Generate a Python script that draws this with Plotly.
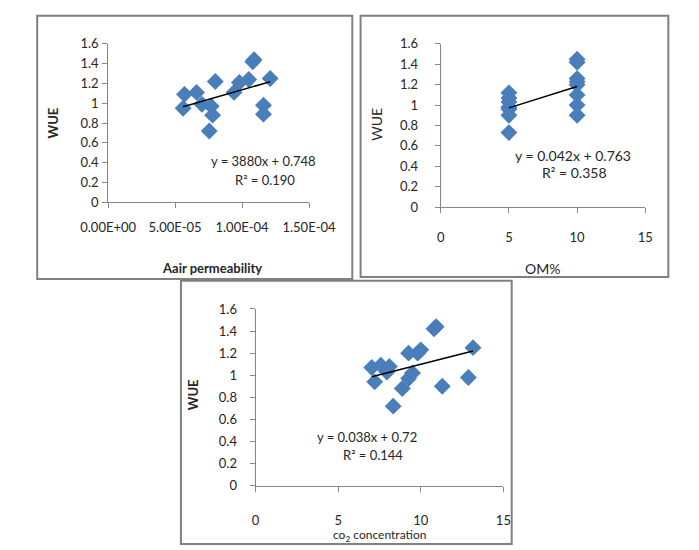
import plotly.graph_objects as go

W, H = 699, 550

# ---- data (16 samples) ----
wue_p1 = [1.09, 0.95, 1.11, 0.99, 1.22, 0.97, 0.88, 0.72, 1.11, 1.21, 1.24, 1.44, 1.42, 1.25, 0.98, 0.89]
perm = [5.7e-5, 5.6e-5, 6.6e-5, 7.0e-5, 8.0e-5, 7.7e-5, 7.8e-5, 7.55e-5, 9.4e-5, 9.8e-5, 1.05e-4, 1.09e-4, 1.08e-4, 1.21e-4, 1.16e-4, 1.16e-4]

om_wue_5 = [1.12, 1.07, 1.03, 0.98, 0.96, 0.90, 0.73]
om_wue_10 = [1.45, 1.42, 1.26, 1.23, 1.20, 1.10, 1.00, 0.90]
om_x5 = [5] * len(om_wue_5)
om_x10 = [10] * len(om_wue_10)

co2 = [7.03, 7.21, 7.58, 7.95, 8.33, 8.88, 9.26, 9.26, 9.81, 10.0, 10.93, 10.8, 11.3, 12.88, 13.16, 8.1, 9.5]
wue_p3 = [1.07, 0.94, 1.09, 1.03, 0.72, 0.88, 0.97, 1.20, 1.20, 1.23, 1.44, 1.42, 0.90, 0.98, 1.25, 1.08, 1.02]

# trend line coefficients (slope, intercept) as reported
trend1 = (3880, 0.748)
trend2 = (0.042, 0.763)
trend3 = (0.038, 0.72)

eq1 = ["y = 3880x + 0.748", "R² = 0.190"]
eq2 = ["y = 0.042x + 0.763", "R² = 0.358"]
eq3 = ["y = 0.038x + 0.72", "R² = 0.144"]

p1_xticks = [0, 5e-5, 1e-4, 1.5e-4]
p1_xticktext = ["0.00E+00", "5.00E-05", "1.00E-04", "1.50E-04"]
yticks = [0, 0.2, 0.4, 0.6, 0.8, 1, 1.2, 1.4, 1.6]
yticktext = ["0", "0.2", "0.4", "0.6", "0.8", "1", "1.2", "1.4", "1.6"]
xticks_15 = [0, 5, 10, 15]

BLUE = "#4A7EBB"
FONT = "Lato"


def px(x):
    return x / W


def py(y):
    return 1 - y / H


fig = go.Figure()

marker = dict(symbol="diamond", size=13, color=BLUE, line=dict(width=0))

# panel 1
fig.add_trace(go.Scatter(x=perm, y=wue_p1, mode="markers", marker=marker, xaxis="x", yaxis="y", showlegend=False))
xs1 = [min(perm), max(perm)]
fig.add_trace(go.Scatter(x=xs1, y=[trend1[0] * v + trend1[1] for v in xs1], mode="lines",
                         line=dict(color="black", width=1.5), xaxis="x", yaxis="y", showlegend=False))
# panel 2
fig.add_trace(go.Scatter(x=om_x5 + om_x10, y=om_wue_5 + om_wue_10, mode="markers", marker=marker,
                         xaxis="x2", yaxis="y2", showlegend=False))
xs2 = [5, 10]
fig.add_trace(go.Scatter(x=xs2, y=[trend2[0] * v + trend2[1] for v in xs2], mode="lines",
                         line=dict(color="black", width=1.5), xaxis="x2", yaxis="y2", showlegend=False))
# panel 3
fig.add_trace(go.Scatter(x=co2, y=wue_p3, mode="markers", marker=marker, xaxis="x3", yaxis="y3", showlegend=False))
xs3 = [min(co2), max(co2)]
fig.add_trace(go.Scatter(x=xs3, y=[trend3[0] * v + trend3[1] for v in xs3], mode="lines",
                         line=dict(color="black", width=1.5), xaxis="x3", yaxis="y3", showlegend=False))

tickfont = dict(family=FONT, size=13, color="#262626")
axis_common = dict(showgrid=False, zeroline=False, showline=True, linecolor="#868686", linewidth=1,
                   ticks="outside", ticklen=5, tickcolor="#868686", tickfont=tickfont)

# domains from pixel positions
fig.update_layout(
    width=W, height=H, margin=dict(l=0, r=0, t=0, b=0),
    paper_bgcolor="white", plot_bgcolor="white",
    xaxis=dict(domain=[px(87), px(305)], range=[0, 1.5e-4], tickvals=p1_xticks, ticktext=p1_xticktext,
               anchor="y", ticklabelstandoff=8, **axis_common),
    yaxis=dict(domain=[py(200), py(37)], range=[0, 1.6], tickvals=yticks, ticktext=yticktext,
               anchor="x", ticklabelstandoff=1, **axis_common),
    xaxis2=dict(domain=[px(448), px(670)], range=[0, 15], tickvals=xticks_15,
                anchor="y2", ticklabelstandoff=13, **axis_common),
    yaxis2=dict(domain=[py(205), py(37)], range=[0, 1.6], tickvals=yticks, ticktext=yticktext,
                anchor="x2", ticklabelstandoff=14, **axis_common),
    xaxis3=dict(domain=[px(247), px(516)], range=[0, 15], tickvals=xticks_15,
                anchor="y3", ticklabelstandoff=18, **axis_common),
    yaxis3=dict(domain=[py(492), py(310)], range=[0, 1.6], tickvals=yticks, ticktext=yticktext,
                anchor="x3", ticklabelstandoff=10, **axis_common),
)

# panel frames
frame = dict(type="rect", xref="paper", yref="paper", line=dict(color="#808080", width=2), fillcolor="rgba(0,0,0,0)")
fig.add_shape(x0=px(10), x1=px(352), y0=py(279), y1=py(8), **frame)
fig.add_shape(x0=px(361), x1=px(695), y0=py(277), y1=py(8), **frame)
fig.add_shape(x0=px(166), x1=px(525), y0=py(552), y1=py(281), **frame)


def ann(text, x, y, size=13, bold=False, angle=0, color="#262626"):
    t = f"<b>{text}</b>" if bold else text
    fig.add_annotation(text=t, x=px(x), y=py(y), xref="paper", yref="paper", showarrow=False,
                       font=dict(family=FONT, size=size, color=color), textangle=angle,
                       xanchor="center", yanchor="middle")


# axis titles
ann("WUE", 27, 118, bold=True, angle=-90)
ann("Aair permeability", 200, 268, bold=True)
ann("WUE", 378, 120, size=14, angle=-90)
ann("OM%", 558, 268, size=14)
ann("WUE", 180, 398, bold=True, angle=-90)
ann("co<sub>2</sub> concentration", 382, 543, size=12)

# equations
ann(eq1[0], 256, 158)
ann(eq1[1], 257, 177)
ann(eq2[0], 592, 152, size=14)
ann(eq2[1], 593, 169, size=14)
ann(eq3[0], 368, 442)
ann(eq3[1], 375, 460)

fig.write_html("out.html")
